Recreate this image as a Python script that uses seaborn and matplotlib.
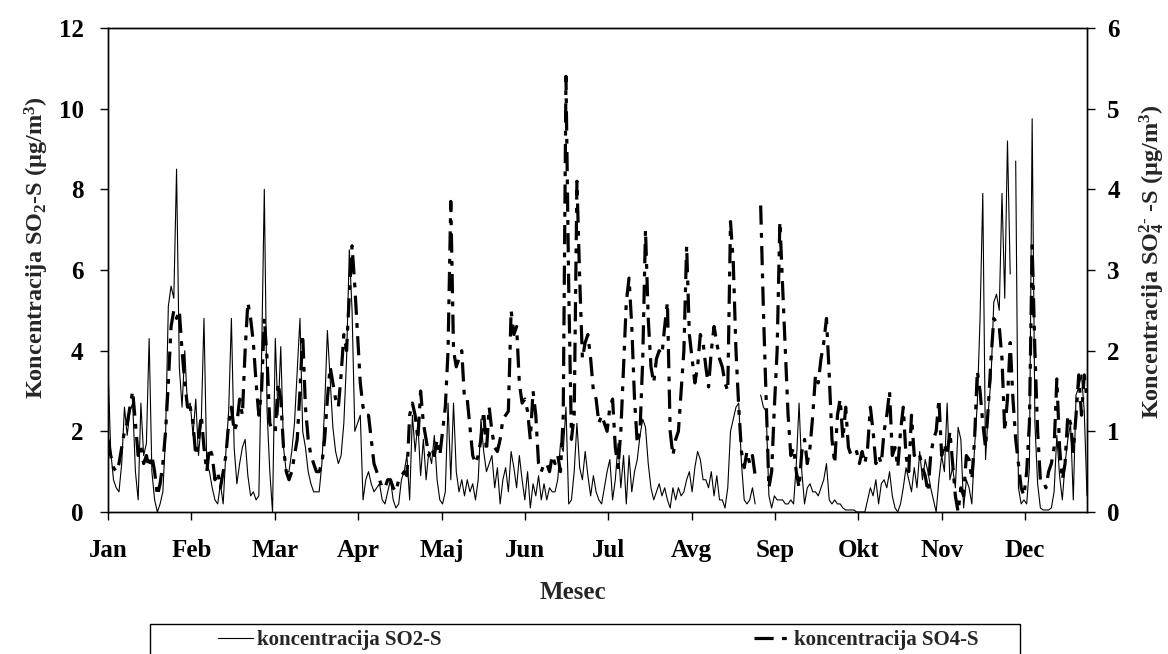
import numpy as np
import pandas as pd
import matplotlib
matplotlib.use("Agg")
import matplotlib.pyplot as plt
import seaborn as sns
from matplotlib.patches import Rectangle
from matplotlib.lines import Line2D

nan = np.nan

# === Daily readings (one value per day) ===
months = ["Jan", "Feb", "Mar", "Apr", "Maj", "Jun",
          "Jul", "Avg", "Sep", "Okt", "Nov", "Dec"]

# SO2-S, left axis (ug/m3)
so2 = [
    3.6, 1.5, 0.8, 0.6, 0.5, 1.2, 2.6, 1.9, 2.5, 2.7,
    1.0, 0.3, 2.7, 1.4, 1.7, 4.3, 1.0, 0.3, 0.0, 0.2,
    0.5, 1.9, 5.1, 5.6, 5.3, 8.5, 3.6, 2.6, 4.0, 2.6,
    2.7, 1.9, 2.8, 1.4, 2.2, 4.8, 1.2, 1.0, 0.6, 0.3,
    0.2, 0.7, 0.2, 1.5, 2.5, 4.8, 1.6, 0.7, 1.2, 1.6,
    1.8, 0.9, 0.4, 0.5, 0.3, 0.4, 3.8, 8.0, 2.5, 1.0,
    0.0, 4.3, 2.4, 4.1, 1.6, 1.0, 1.0, 1.5, 2.2, 3.5,
    4.8, 2.0, 1.6, 1.0, 0.7, 0.5, 0.5, 0.5, 1.2, 2.6,
    4.5, 3.3, 2.1, 1.5, 1.2, 1.4, 2.2, 3.8, 6.5, 5.0,
    2.0, 2.2, 2.4, 0.3, 0.8, 1.0, 0.7, 0.5, 0.6, 0.7,
    0.3, 0.2, 0.5, 0.8, 0.3, 0.1, 0.2, 0.8, 1.0, 1.4,
    0.3, 2.4, 1.5, 2.2, 0.9, 1.8, 0.8, 1.5, 1.2, 1.9,
    0.8, 0.3, 0.2, 0.5, 2.7, 0.8, 2.7, 1.0, 0.5, 0.8,
    0.4, 0.8, 0.5, 0.7, 0.3, 0.8, 2.3, 1.5, 1.0, 1.2,
    1.4, 0.6, 1.1, 0.2, 0.8, 1.1, 0.5, 1.5, 1.1, 0.6,
    1.4, 0.8, 0.3, 1.0, 0.1, 0.7, 0.4, 0.9, 0.3, 0.7,
    0.3, 0.6, 0.5, 0.5, 0.8, 1.7, 1.5, 2.6, 0.2, 0.3,
    1.0, 2.2, 1.1, 0.8, 1.5, 0.9, 0.4, 0.9, 0.5, 0.3,
    0.2, 0.6, 1.0, 1.3, 0.3, 0.8, 1.7, 0.6, 1.4, 0.2,
    1.4, 0.5, 1.0, 1.3, 1.9, 2.3, 2.1, 1.2, 0.6, 0.3,
    0.5, 0.7, 0.4, 0.6, 0.3, 0.1, 0.6, 0.3, 0.6, 0.4,
    0.5, 0.8, 1.0, 0.5, 1.1, 1.5, 1.3, 0.8, 0.8, 0.6,
    1.0, 0.4, 0.9, 0.3, 0.3, 0.1, 0.6, 2.0, 2.3, 2.6,
    2.7, 1.2, 0.3, 0.2, 0.3, 0.6, 0.2, nan, 2.9, 2.6,
    2.5, 0.4, 0.1, 0.4, 0.3, 0.3, 0.3, 0.2, 0.2, 0.3,
    0.2, 1.2, 2.7, 1.0, 0.2, 0.6, 0.7, 0.5, 0.5, 0.4,
    0.6, 0.8, 1.2, 0.3, 0.2, 0.3, 0.2, 0.2, 0.1, 0.05,
    0.05, 0.05, 0.05, 0.0, 0.0, 0.0, 0.0, 0.3, 0.6, 0.4,
    0.8, 0.2, 0.7, 0.8, 0.6, 1.0, 0.4, 0.1, 0.0, 0.2,
    0.6, 1.1, 0.8, 0.5, 1.1, 0.6, 1.5, 0.8, 1.3, 1.0,
    0.6, 0.3, 0.0, 0.8, 1.4, 1.0, 2.7, 0.8, 1.1, 0.6,
    2.1, 1.8, 0.1, 0.8, 0.6, 0.2, 1.6, 2.7, 4.8, 7.9,
    1.3, 2.5, 3.3, 5.2, 5.4, 5.0, 7.9, 5.3, 9.2, 5.9,
    nan, 8.7, 0.6, 0.2, 0.3, 0.2, 1.1, 9.75, 2.2, 0.7,
    0.1, 0.05, 0.05, 0.05, 0.1, 0.5, 1.9, 0.9, 0.3, 1.2,
    1.8, 2.2, 0.3, 2.9, 3.1, 3.4, 2.5, 0.4,
]

# SO4-S, right axis (ug/m3)
so4 = [
    0.9, 0.7, 0.55, 0.5, 0.6, 0.8, 1.0, 1.1, 1.3, 1.5,
    1.1, 0.7, 0.8, 0.6, 0.7, 0.55, 0.7, 0.5, 0.2, 0.35,
    0.6, 1.0, 1.6, 2.3, 2.5, 2.4, 2.5, 2.0, 1.6, 1.3,
    1.3, 1.1, 0.7, 0.9, 1.2, 0.8, 0.5, 0.8, 0.7, 0.4,
    0.5, 0.3, 0.5, 0.7, 1.1, 1.3, 1.0, 1.1, 1.4, 1.2,
    2.0, 2.6, 2.4, 2.1, 1.6, 1.2, 1.5, 2.4, 1.9, 1.1,
    1.0, 1.0, 1.6, 1.4, 0.8, 0.5, 0.4, 0.5, 0.7, 0.9,
    1.5, 2.2, 1.3, 0.9, 0.7, 0.6, 0.5, 0.5, 0.6, 0.9,
    1.4, 1.8, 1.6, 1.4, 1.3, 1.7, 2.2, 2.0, 2.7, 3.3,
    2.8, 2.2, 1.6, 1.3, 1.2, 1.2, 0.9, 0.6, 0.5, 0.4,
    0.3, 0.3, 0.4, 0.4, 0.3, 0.25, 0.4, 0.45, 0.5, 0.45,
    1.2, 1.35, 1.2, 0.9, 1.5, 1.1, 0.9, 0.7, 0.8, 0.7,
    0.9, 0.7, 1.0, 1.3, 2.0, 3.85, 2.0, 1.8, 1.9, 2.0,
    1.4, 1.4, 1.05, 0.7, 0.6, 0.7, 0.9, 1.25, 0.75, 1.3,
    1.0, 0.8, 0.75, 0.9, 1.15, 1.2, 1.25, 2.5, 2.2, 2.3,
    1.6, 1.35, 1.4, 1.25, 0.9, 1.5, 1.2, 0.6, 0.5, 0.6,
    0.6, 0.5, 0.7, 0.6, 0.7, 0.5, 1.2, 5.4, 2.8, 0.9,
    1.2, 4.1, 2.9, 1.9, 2.1, 2.2, 1.9, 1.5, 1.4, 1.1,
    1.2, 1.1, 1.0, 1.3, 1.4, 0.8, 0.55, 1.0, 1.8, 2.6,
    2.9, 2.3, 1.4, 0.85, 1.0, 1.9, 3.5, 2.4, 1.8, 1.6,
    1.9, 2.0, 1.95, 2.3, 2.6, 1.0, 0.7, 0.9, 1.0, 1.5,
    2.0, 3.3, 2.2, 1.9, 1.6, 1.8, 2.2, 2.1, 1.8, 1.55,
    2.0, 2.3, 2.1, 1.9, 1.8, 1.6, 1.5, 3.6, 3.1, 2.0,
    1.3, 0.75, 0.55, 0.75, 0.6, 0.7, 0.45, nan, 3.8, 2.5,
    1.4, 0.3, 0.5, 1.3, 2.0, 3.6, 2.8, 2.0, 1.2, 0.7,
    0.8, 0.5, 0.3, 0.75, 0.9, 0.6, 0.8, 1.2, 1.7, 1.6,
    1.9, 2.1, 2.4, 1.7, 0.9, 0.6, 1.2, 1.4, 0.9, 1.3,
    0.8, 0.7, 0.7, 0.75, 0.6, 0.75, 0.6, 0.8, 1.3, 1.0,
    0.6, 0.7, 0.6, 1.0, 1.2, 1.5, 0.7, 0.8, 0.55, 1.0,
    1.3, 0.7, 0.5, 1.2, 0.7, 0.75, 0.7, 0.55, 0.45, 0.25,
    0.7, 0.9, 1.0, 1.4, 0.7, 0.85, 0.7, 1.0, 0.6, 0.2,
    0.0, 0.3, 0.2, 0.7, 0.65, 0.4, 0.9, 1.75, 1.5, 1.1,
    0.8, 1.3, 1.9, 2.4, 2.35, 2.3, 1.9, 1.0, 1.4, 2.1,
    1.4, 0.9, 0.6, 0.3, 0.2, 0.5, 1.1, 3.3, 2.0, 1.0,
    0.4, 0.4, 0.3, 0.5, 0.6, 0.8, 1.65, 0.8, 0.4, 0.6,
    1.2, 1.1, 0.75, 1.2, 1.7, 1.2, 1.7, 1.4,
]

legend_labels = ["koncentracija SO2-S", "koncentracija SO4-S"]

# --- Frame ---
df = pd.DataFrame({"day": np.linspace(0, 364, len(so2)), "so2": so2, "so4": so4})
# gaps in the record -> separate line pieces
df["seg2"] = df["so2"].isna().cumsum()
df["seg4"] = df["so4"].isna().cumsum()

# --- Style ---
sns.set_style("ticks")
plt.rcParams["font.family"] = ["Liberation Serif", "DejaVu Serif"]
plt.rcParams["font.weight"] = "bold"
plt.rcParams["axes.labelweight"] = "bold"
plt.rcParams["mathtext.fontset"] = "custom"
plt.rcParams["mathtext.rm"] = "Liberation Serif:bold"
plt.rcParams["mathtext.it"] = "Liberation Serif:bold"
plt.rcParams["mathtext.bf"] = "Liberation Serif:bold"

fig = plt.figure(figsize=(11.68, 6.54), dpi=100)
ax = fig.add_axes([108 / 1168, 1 - 512 / 654, 979 / 1168, 484 / 654])
ax2 = ax.twinx()

so4_style = (0, (6, 2.6, 1.5, 2.6))

sns.lineplot(data=df.dropna(subset=["so2"]), x="day", y="so2", units="seg2",
             estimator=None, color="black", linewidth=0.8, ax=ax)
sns.lineplot(data=df.dropna(subset=["so4"]), x="day", y="so4", units="seg4",
             estimator=None, color="black", linewidth=2.3,
             linestyle=so4_style, ax=ax2)

# --- Axes ---
ax.set_xlim(0, 364)
ax.set_ylim(0, 12)
ax2.set_ylim(0, 6)
ax.set_xticks(np.arange(12) * 31)
ax.set_xticklabels(months)
ax.set_yticks(np.arange(0, 13, 2))
ax2.set_yticks(np.arange(0, 7, 1))

for a in (ax, ax2):
    for s in a.spines.values():
        s.set_color("black")
        s.set_linewidth(1.0)
ax.tick_params(axis="x", direction="out", length=5.5, width=1, pad=14,
               labelsize=18, colors="black")
ax.tick_params(axis="y", direction="out", length=5.5, width=1, pad=12,
               labelsize=18, colors="black")
ax2.tick_params(axis="y", direction="out", length=5.5, width=1, pad=9,
                labelsize=18, colors="black")

ax.set_xlabel("Mesec", fontsize=18, fontweight="bold", va="center")
ax.xaxis.set_label_coords(0.475, -0.166)
ax.set_ylabel("Koncentracija SO$_2$-S (µg/m$^3$)", fontsize=17.5,
              fontweight="bold", va="center")
ax.yaxis.set_label_coords(-0.073, 0.547)
ax2.set_ylabel(r"Koncentracija SO$_4^{2\text{-}}$ -S (µg/m$^3$)", fontsize=17.5,
               fontweight="bold", va="center", rotation=90)
ax2.yaxis.set_label_coords(1.067, 0.517)

# --- Legend (box runs off the bottom of the image) ---
fig.add_artist(Rectangle((150 / 1168, -0.05), 870 / 1168, (654 - 624) / 654 + 0.05,
                         transform=fig.transFigure, fill=False,
                         edgecolor="black", linewidth=1.0))
handles = [Line2D([], [], color="black", linewidth=0.8),
           Line2D([], [], color="black", linewidth=2.3, linestyle=so4_style)]
fig.legend(handles, legend_labels, loc="upper center",
           bbox_to_anchor=(0.512, 1 - 624 / 654), ncol=2, frameon=False,
           fontsize=15, handlelength=1.7, handletextpad=0.2,
           columnspacing=15, borderaxespad=0, borderpad=0.3)

fig.savefig("out.png", dpi=100)
